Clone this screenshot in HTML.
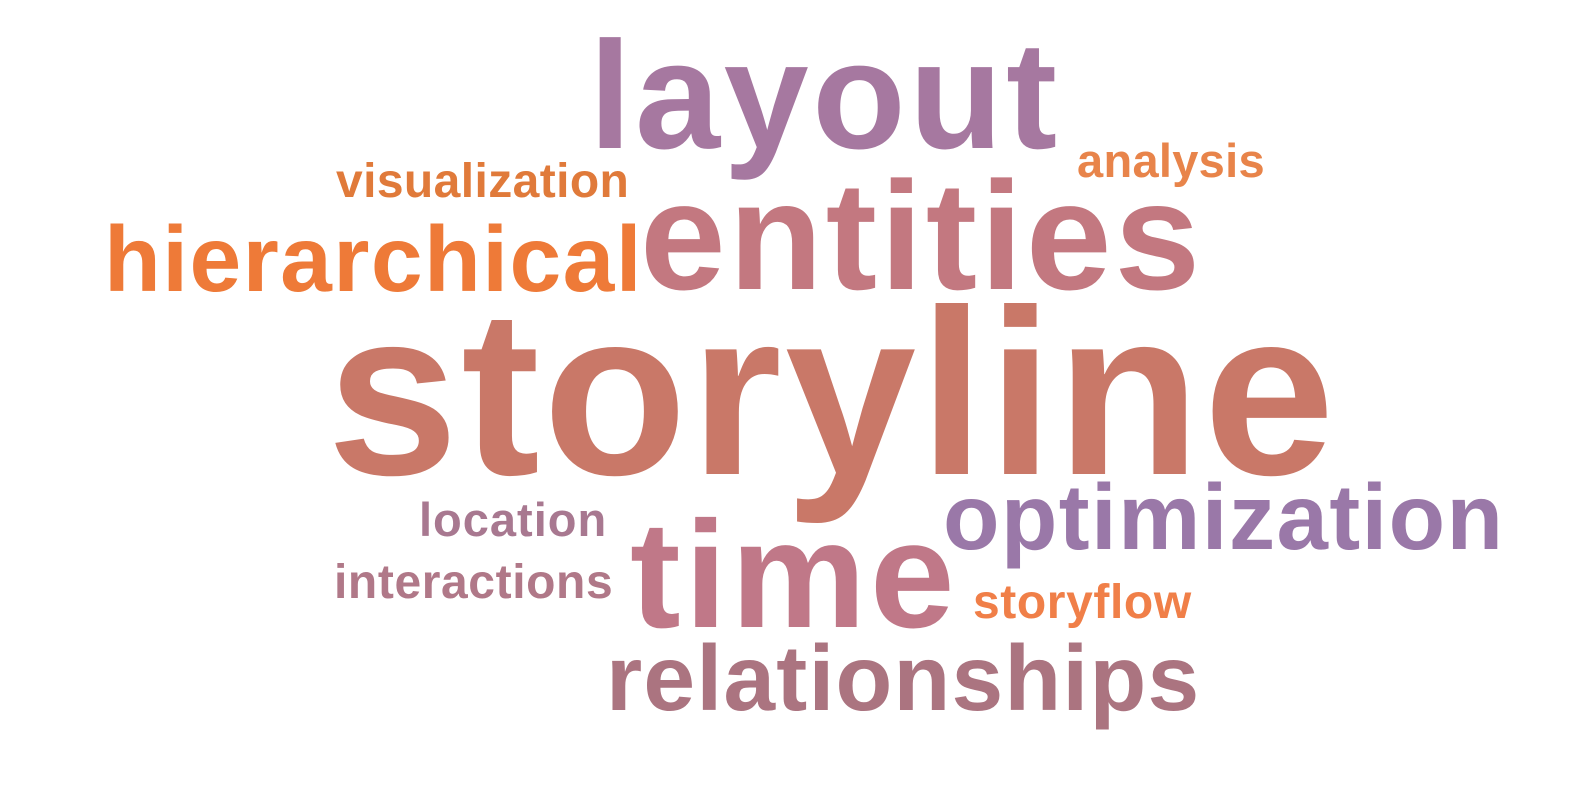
<!DOCTYPE html>
<html>
<head>
<meta charset="utf-8">
<style>
  html,body{margin:0;padding:0;background:#fff;}
  svg{display:block;}
  text{font-family:"Liberation Sans",Arial,sans-serif;font-weight:bold;}
</style>
</head>
<body>
<svg width="1587" height="810" viewBox="0 0 1587 810" xmlns="http://www.w3.org/2000/svg">
  <rect width="1587" height="810" fill="#fff"/>
  <text x="589" y="148" font-size="153" letter-spacing="3.5" fill="#a678a0">layout</text>
  <text x="1077" y="177" font-size="47" letter-spacing="0.3" fill="#e8844a">analysis</text>
  <text x="336" y="197" font-size="48" letter-spacing="0.4" fill="#e07a3a">visualization</text>
  <text x="640" y="289" font-size="154" letter-spacing="3" fill="#c37880">entities</text>
  <text x="104" y="291" font-size="93" letter-spacing="1.4" fill="#ee7a38">hierarchical</text>
  <text x="327" y="474" font-size="236" letter-spacing="3" fill="#c97868">storyline</text>
  <text x="419" y="536" font-size="47" letter-spacing="1" fill="#a87890">location</text>
  <text x="943" y="549" font-size="92.5" letter-spacing="1.4" fill="#9a78a8">optimization</text>
  <text x="334" y="598" font-size="48" letter-spacing="0.6" fill="#b07888">interactions</text>
  <text x="630" y="627" font-size="152" letter-spacing="4" fill="#c07888">time</text>
  <text x="973" y="618" font-size="48" letter-spacing="0.6" fill="#f07f48">storyflow</text>
  <text x="606" y="710" font-size="93" letter-spacing="1.2" fill="#ab7480">relationships</text>
</svg>
</body>
</html>
